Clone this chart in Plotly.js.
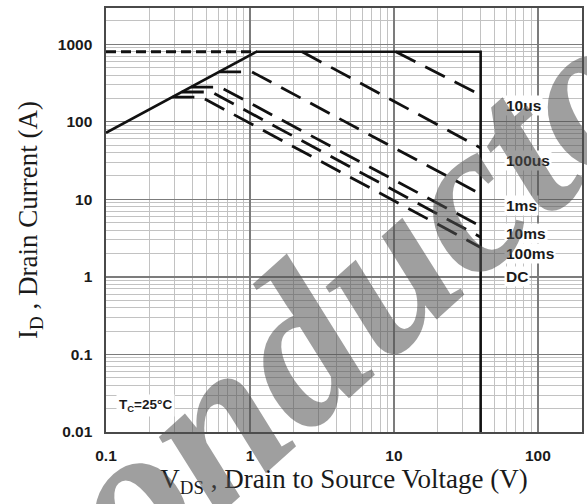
<!DOCTYPE html>
<html>
<head>
<meta charset="utf-8">
<script src="https://cdn.plot.ly/plotly-3.0.1.min.js"></script>
<style>
  html, body { margin: 0; padding: 0; background: #fff; }
  #soa { width: 587px; height: 504px; }
</style>
</head>
<body>
<div id="soa"></div>
<script>
// Safe operating area, VDS vs ID, log-log.

// Boundary: RDS(on) limit, package current limit, VDS max
const limitV = [0.1, 1.11, 40, 40];
const limitI = [72, 800, 800, 0.01];

// Package current limit continued to the left (dashed)
const pkgV = [0.1, 1.11];
const pkgI = [800, 800];

// Pulse-width limited curves
const v10us = [10.3, 40];
const i10us = [800, 221];
const v100us = [2.3, 40];
const i100us = [800, 46];
const v1ms = [0.61, 1.03, 40];
const i1ms = [440, 440, 11.7];
const v10ms = [0.39, 0.62, 40];
const i10ms = [280, 280, 4.5];
const v100ms = [0.336, 0.54, 40];
const i100ms = [242, 242, 3.25];
const vDC = [0.289, 0.46, 40];
const iDC = [208, 208, 2.4];

const curveNames = ['10us', '100us', '1ms', '10ms', '100ms', 'DC'];

// Axis ticks
const xTickVals = [0.1, 1, 10, 100];
const xTickText = ['0.1', '1', '10', '100'];
const yTickVals = [0.01, 0.1, 1, 10, 100, 1000];
const yTickText = ['0.01', '0.1', '1', '10', '100', '1000'];

const ink = '#111';
const solid = {color: ink, width: 2.6};
const pulse = {color: ink, width: 2.8, dash: '22px,11px'};

function tr(x, y, line, name) {
  return {x: x, y: y, mode: 'lines', line: line, name: name,
          hoverinfo: 'skip', showlegend: false, cliponaxis: true};
}

const traces = [
  tr(pkgV, pkgI, {color: ink, width: 2.8, dash: '10px,5px'}, 'limit'),
  tr(v10us, i10us, pulse, curveNames[0]),
  tr(v100us, i100us, pulse, curveNames[1]),
  tr(v1ms, i1ms, pulse, curveNames[2]),
  tr(v10ms, i10ms, pulse, curveNames[3]),
  tr(v100ms, i100ms, pulse, curveNames[4]),
  tr(vDC, iDC, pulse, curveNames[5]),
  tr(limitV, limitI, solid, 'boundary')
];

// Curve label placement (left edge in V, vertical centre in A)
const labelV = 58;
const labelI = [164, 32, 8.4, 3.66, 2.02, 1.0];

const sansBold = 'Arial, "Liberation Sans", sans-serif';
const tickFont = {family: sansBold, size: 15.5, color: '#1a1a1a', weight: 'bold'};
const titleFont = {family: '"Times New Roman", "Liberation Serif", serif', size: 27, color: '#1a1a1a'};

const annotations = curveNames.map((n, k) => ({
  x: Math.log10(labelV), y: Math.log10(labelI[k]), xref: 'x', yref: 'y',
  text: n, showarrow: false, xanchor: 'left', yanchor: 'middle',
  font: {family: sansBold, size: 15.5, color: '#1a1a1a', weight: 'bold'},
  bgcolor: '#ffffff', borderpad: 1
}));

annotations.push({
  x: Math.log10(0.187), y: Math.log10(0.022), xref: 'x', yref: 'y',
  text: 'T<sub>C</sub>=25°C', showarrow: false, xanchor: 'center', yanchor: 'middle',
  font: {family: sansBold, size: 13.5, color: '#1a1a1a', weight: 'bold'},
  bgcolor: '#ffffff', borderpad: 2
});

// Watermark
annotations.push({
  x: (186 - 106) / 476, y: (431.7 - 447) / 424, xref: 'paper', yref: 'paper',
  text: 'Semiconductor', showarrow: false, xanchor: 'center', yanchor: 'middle',
  textangle: -42,
  font: {family: '"Times New Roman", "Liberation Serif", serif', size: 215,
         color: 'rgba(80,80,80,0.55)', weight: 'bold', style: 'italic'}
});

const axisCommon = {
  type: 'log',
  showgrid: true, gridcolor: '#7c7c7c', gridwidth: 1.4,
  minor: {dtick: 'D1', showgrid: true, gridcolor: '#c2c2c2', gridwidth: 1},
  showline: true, mirror: true, linecolor: '#4a4a4a', linewidth: 1.6,
  zeroline: false, ticks: '', tickmode: 'array',
  tickfont: tickFont, ticklabelstandoff: 9,
  fixedrange: true, automargin: false
};

const layout = {
  width: 587, height: 504,
  margin: {l: 106, r: 5, t: 8, b: 72},
  paper_bgcolor: '#ffffff', plot_bgcolor: '#ffffff',
  showlegend: false,
  xaxis: Object.assign({}, axisCommon, {
    range: [-1, 2.306],
    tickvals: xTickVals, ticktext: xTickText,
    title: {text: 'V<sub>DS</sub> , Drain to Source Voltage (V)', font: titleFont, standoff: 5}
  }),
  yaxis: Object.assign({}, axisCommon, {
    range: [-2, 3.467],
    tickvals: yTickVals, ticktext: yTickText,
    title: {text: 'I<sub>D</sub> , Drain Current (A)', font: titleFont, standoff: 12}
  }),
  annotations: annotations
};

Plotly.newPlot('soa', traces, layout, {staticPlot: true, displayModeBar: false});
</script>
</body>
</html>
